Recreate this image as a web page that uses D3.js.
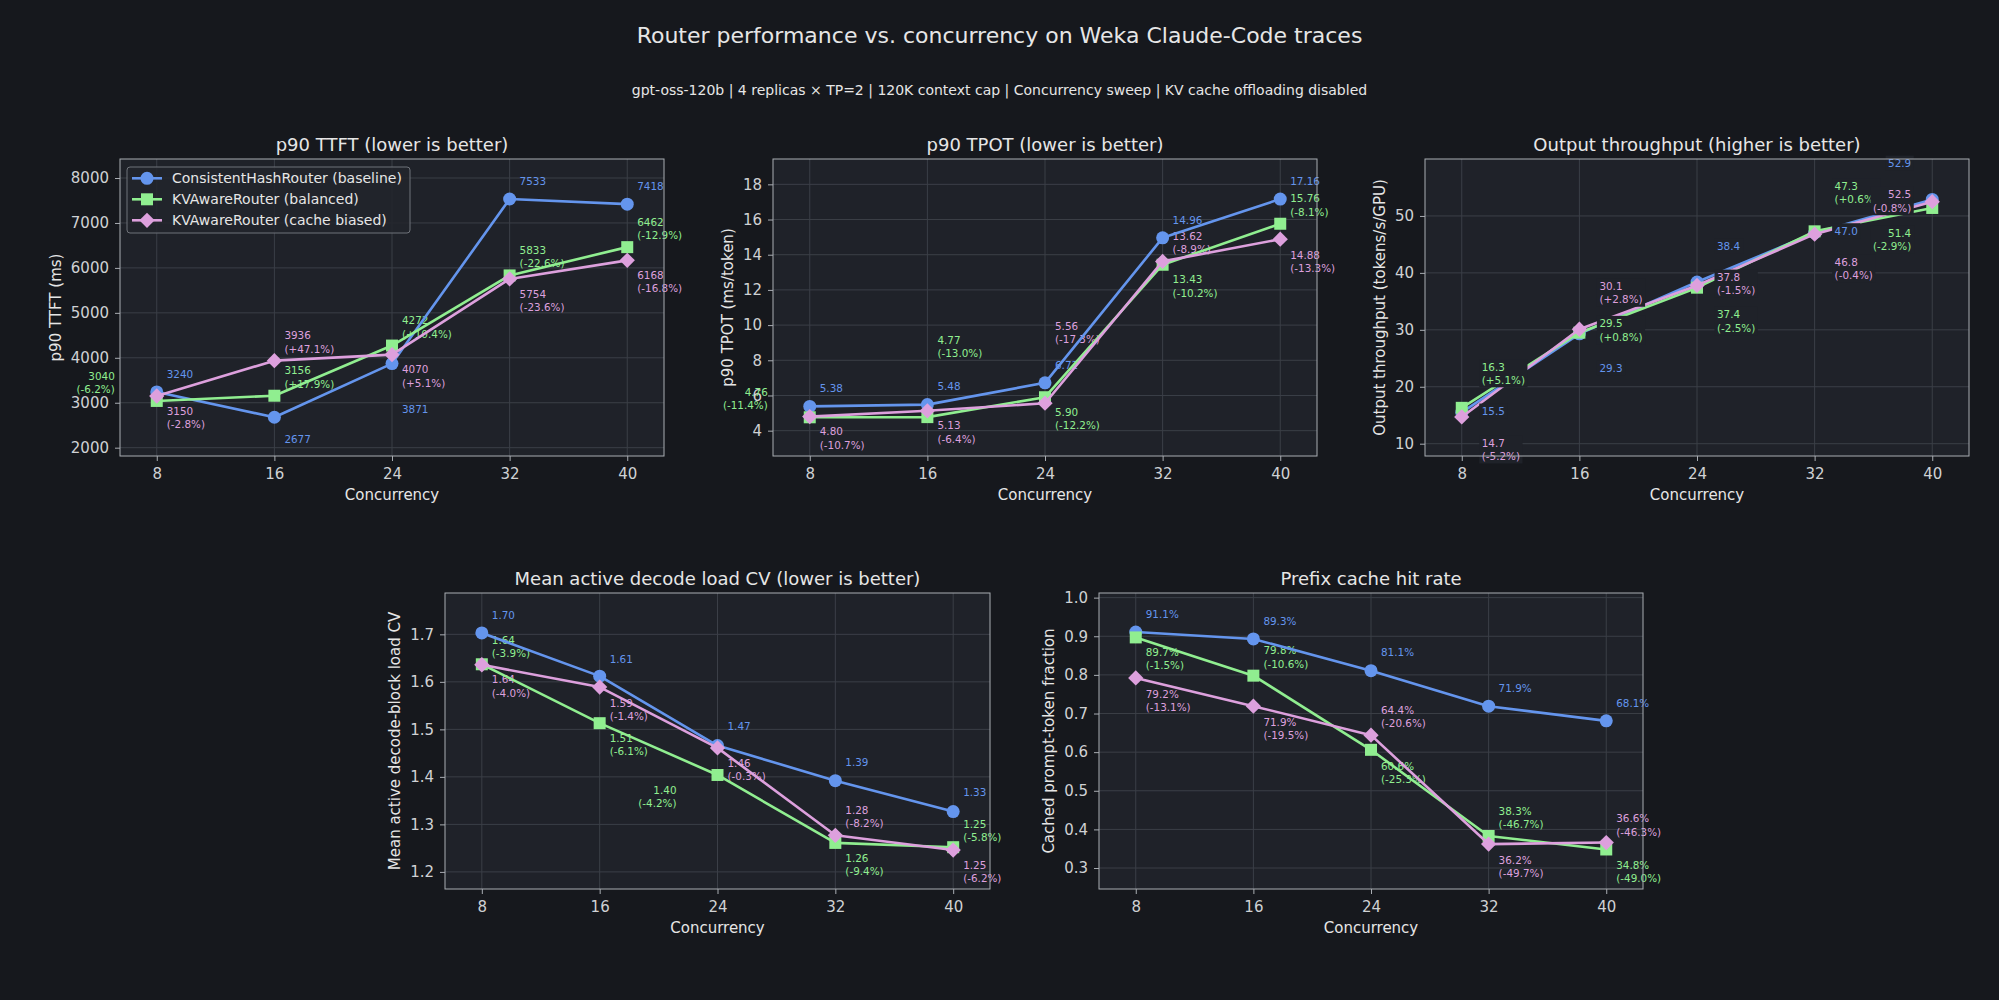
<!DOCTYPE html>
<html>
<head>
<meta charset="utf-8">
<script src="https://cdn.jsdelivr.net/npm/d3@7"></script>
<style>
  body { margin: 0; background: #16181d; }
  svg { display: block; font-family: "DejaVu Sans", sans-serif; }
</style>
</head>
<body>
<svg id="chart" width="1999" height="1000"></svg>
<script>
// ---- data ----
const concurrency = [8, 16, 24, 32, 40];
const routerNames = ["ConsistentHashRouter (baseline)", "KVAwareRouter (balanced)", "KVAwareRouter (cache biased)"];

// p90 TTFT (ms)
const ttftBaseline = [3240, 2677, 3871, 7533, 7418];
const ttftBalanced = [3040, 3156, 4272, 5833, 6462];
const ttftCache    = [3150, 3936, 4070, 5754, 6168];
const ttftBalancedPct = [-6.2, 17.9, 10.4, -22.6, -12.9];
const ttftCachePct    = [-2.8, 47.1, 5.1, -23.6, -16.8];
const ttftTicks = [2000, 3000, 4000, 5000, 6000, 7000, 8000];

// p90 TPOT (ms/token)
const tpotBaseline = [5.38, 5.48, 6.72, 14.96, 17.16];
const tpotBalanced = [4.76, 4.77, 5.90, 13.43, 15.76];
const tpotCache    = [4.80, 5.13, 5.56, 13.62, 14.88];
const tpotBalancedPct = [-11.4, -13.0, -12.2, -10.2, -8.1];
const tpotCachePct    = [-10.7, -6.4, -17.3, -8.9, -13.3];
const tpotTicks = [4, 6, 8, 10, 12, 14, 16, 18];

// output throughput (tokens/s/GPU)
const tputBaseline = [15.5, 29.3, 38.4, 47.0, 52.9];
const tputBalanced = [16.3, 29.5, 37.4, 47.3, 51.4];
const tputCache    = [14.7, 30.1, 37.8, 46.8, 52.5];
const tputBalancedPct = [5.1, 0.8, -2.5, 0.6, -2.9];
const tputCachePct    = [-5.2, 2.8, -1.5, -0.4, -0.8];
const tputTicks = [10, 20, 30, 40, 50];

// mean active decode-block load CV
const cvBaseline = [1.703, 1.612, 1.466, 1.392, 1.327];
const cvBalanced = [1.637, 1.513, 1.404, 1.261, 1.252];
const cvCache    = [1.636, 1.589, 1.461, 1.277, 1.246];
const cvBalancedPct = [-3.9, -6.1, -4.2, -9.4, -5.8];
const cvCachePct    = [-4.0, -1.4, -0.3, -8.2, -6.2];
const cvTicks = [1.2, 1.3, 1.4, 1.5, 1.6, 1.7];

// prefix cache hit rate (fraction of prompt tokens)
const hitBaseline = [0.911, 0.893, 0.811, 0.719, 0.681];
const hitBalanced = [0.897, 0.798, 0.606, 0.383, 0.348];
const hitCache    = [0.792, 0.719, 0.644, 0.362, 0.366];
const hitBalancedPct = [-1.5, -10.6, -25.3, -46.7, -49.0];
const hitCachePct    = [-13.1, -19.5, -20.6, -49.7, -46.3];
const hitTicks = [0.3, 0.4, 0.5, 0.6, 0.7, 0.8, 0.9, 1.0];

// ---- label placement (px offsets from each point; negative dx = right-aligned) ----
const ttftLabelPos = [
  [[10, -18], [10, 22], [10, 46], [10, -18], [10, -18]],
  [[-42, -25], [10, -25], [10, -25], [10, -25], [10, -25]],
  [[10, 15], [10, -25], [10, 15], [10, 15], [10, 15]]
];
const tpotLabelPos = [
  [[10, -18], [10, -18], [10, -18], [10, -18], [10, -18]],
  [[-42, -25], [10, -77], [10, 15], [10, 15], [10, -25]],
  [[10, 15], [10, 15], [10, -77], [10, -25], [10, 16]]
];
const tputLabelPos = [
  [[20, -1], [20, 34], [20, -36], [20, -2], [-21, -36]],
  [[20, -41], [20, -9], [20, 27], [20, -45], [-21, 25]],
  [[20, 26], [20, -43], [20, -8], [20, 28], [-21, -7]]
];
const cvLabelPos = [
  [[10, -18], [10, -17], [10, -19], [10, -18], [10, -19]],
  [[10, -24], [10, 15], [-41, 15], [10, 15], [10, -23]],
  [[10, 15], [10, 16], [10, 15], [10, -25], [10, 15]]
];
const hitLabelPos = [
  [[10, -18], [10, -18], [10, -18], [10, -18], [10, -18]],
  [[10, 15], [10, -25], [10, 16], [10, -25], [10, 16]],
  [[10, 16], [10, 16], [10, -25], [10, 16], [10, -24]]
];

// ---- style ----
const colors = ["#6495ed", "#90ee90", "#dda0dd"];
const figBg = "#16181d", axBg = "#1f2229";
const textCol = "#e6e6e6", tickCol = "#cfd1d4", gridCol = "#3b3f47", spineCol = "#a9adb3";

// plain hyphen minus, like the reference
const fmtInt = v => v.toFixed(0), fmt1 = v => v.toFixed(1), fmt2 = v => v.toFixed(2);
const fmtPct = p => "(" + (p >= 0 ? "+" : "") + p.toFixed(1) + "%)";

const panels = [
  { title: "p90 TTFT (lower is better)", ylabel: "p90 TTFT (ms)", box: [120, 159, 544, 297],
    yDomain: [1815, 8423], yTicks: ttftTicks, tickFmt: fmtInt, valFmt: fmtInt,
    series: [ttftBaseline, ttftBalanced, ttftCache], pct: [null, ttftBalancedPct, ttftCachePct],
    labelPos: ttftLabelPos, legend: true, boxed: false },
  { title: "p90 TPOT (lower is better)", ylabel: "p90 TPOT (ms/token)", box: [773, 159, 544, 297],
    yDomain: [2.56, 19.44], yTicks: tpotTicks, tickFmt: fmtInt, valFmt: fmt2,
    series: [tpotBaseline, tpotBalanced, tpotCache], pct: [null, tpotBalancedPct, tpotCachePct],
    labelPos: tpotLabelPos, legend: false, boxed: false },
  { title: "Output throughput (higher is better)", ylabel: "Output throughput (tokens/s/GPU)", box: [1425, 159, 544, 297],
    yDomain: [7.84, 60.0], yTicks: tputTicks, tickFmt: fmtInt, valFmt: fmt1,
    series: [tputBaseline, tputBalanced, tputCache], pct: [null, tputBalancedPct, tputCachePct],
    labelPos: tputLabelPos, legend: false, boxed: true },
  { title: "Mean active decode load CV (lower is better)", ylabel: "Mean active decode-block load CV", box: [445, 593, 545, 296],
    yDomain: [1.164, 1.787], yTicks: cvTicks, tickFmt: fmt1, valFmt: fmt2,
    series: [cvBaseline, cvBalanced, cvCache], pct: [null, cvBalancedPct, cvCachePct],
    labelPos: cvLabelPos, legend: false, boxed: false },
  { title: "Prefix cache hit rate", ylabel: "Cached prompt-token fraction", box: [1099, 593, 544, 296],
    yDomain: [0.2457, 1.012], yTicks: hitTicks, tickFmt: fmt1, valFmt: v => fmt1(v * 100) + "%",
    series: [hitBaseline, hitBalanced, hitCache], pct: [null, hitBalancedPct, hitCachePct],
    labelPos: hitLabelPos, legend: false, boxed: false }
];

const svg = d3.select("#chart");
svg.append("rect").attr("width", 1999).attr("height", 1000).attr("fill", figBg);

svg.append("text").attr("x", 999.5).attr("y", 43).attr("text-anchor", "middle")
  .attr("font-size", 22).attr("fill", textCol)
  .text("Router performance vs. concurrency on Weka Claude-Code traces");
svg.append("text").attr("x", 999.5).attr("y", 95).attr("text-anchor", "middle")
  .attr("font-size", 14).attr("fill", textCol)
  .text("gpt-oss-120b | 4 replicas × TP=2 | 120K context cap | Concurrency sweep | KV cache offloading disabled");

// marker path by series index: circle, square, diamond
const markerPath = [
  d3.symbol().type(d3.symbolCircle).size(Math.PI * 6.5 * 6.5)(),
  d3.symbol().type(d3.symbolSquare).size(12 * 12)(),
  d3.symbol().type(d3.symbolSquare).size(10.8 * 10.8)()
];
const markerRot = [0, 0, 45];

function drawMarker(g, x, y, i) {
  g.append("path").attr("d", markerPath[i])
    .attr("transform", `translate(${x},${y}) rotate(${markerRot[i]})`)
    .attr("fill", colors[i]);
}

panels.forEach((p, pi) => {
  const [left, top, w, h] = p.box;
  const g = svg.append("g").attr("transform", `translate(${left},${top})`);
  const x = d3.scaleLinear().domain([5.5, 42.5]).range([0, w]);
  const y = d3.scaleLinear().domain(p.yDomain).range([h, 0]);

  g.append("rect").attr("width", w).attr("height", h).attr("fill", axBg);

  // grid
  g.append("g").selectAll("line").data(concurrency).join("line")
    .attr("x1", d => x(d)).attr("x2", d => x(d)).attr("y1", 0).attr("y2", h)
    .attr("stroke", gridCol).attr("stroke-width", 1);
  g.append("g").selectAll("line").data(p.yTicks).join("line")
    .attr("y1", d => y(d)).attr("y2", d => y(d)).attr("x1", 0).attr("x2", w)
    .attr("stroke", gridCol).attr("stroke-width", 1);

  // axes
  const xAxis = g.append("g").attr("transform", `translate(0,${h})`)
    .call(d3.axisBottom(x).tickValues(concurrency).tickFormat(fmtInt).tickSize(5).tickPadding(7));
  const yAxis = g.append("g")
    .call(d3.axisLeft(y).tickValues(p.yTicks).tickFormat(p.tickFmt).tickSize(5).tickPadding(6));
  [xAxis, yAxis].forEach(a => {
    a.select(".domain").remove();
    a.selectAll("line").attr("stroke", spineCol);
    a.selectAll("text").attr("fill", tickCol).attr("font-size", 15)
      .attr("font-family", "DejaVu Sans, sans-serif");
  });

  // text labels with no box are drawn under the lines
  const labelsUnder = g.append("g");
  const linesG = g.append("g");
  const labelsOver = g.append("g");
  const labelG = p.boxed ? labelsOver : labelsUnder;

  const line = d3.line().x((d, i) => x(concurrency[i])).y(d => y(d));
  p.series.forEach((vals, si) => {
    linesG.append("path").datum(vals).attr("d", line)
      .attr("fill", "none").attr("stroke", colors[si]).attr("stroke-width", 2.6)
      .attr("stroke-linejoin", "round");
    vals.forEach((v, i) => drawMarker(linesG, x(concurrency[i]), y(v), si));
  });

  p.series.forEach((vals, si) => {
    vals.forEach((v, i) => {
      const [dx, dy] = p.labelPos[si][i];
      const px = x(concurrency[i]) + dx, py = y(v) + dy;
      const lines = [p.valFmt(v)];
      if (p.pct[si]) lines.push(fmtPct(p.pct[si][i]));
      const lg = labelG.append("g");
      const t = lg.append("text").attr("font-size", 10.4).attr("fill", colors[si])
        .attr("text-anchor", dx < 0 ? "end" : "start");
      lines.forEach((s, k) => t.append("tspan").attr("x", px).attr("y", py + k * 13.3 + 3.7).text(s));
      if (p.boxed) {
        const bb = t.node().getBBox();
        lg.insert("rect", "text").attr("x", bb.x - 2.5).attr("y", bb.y - 1.5)
          .attr("width", bb.width + 5).attr("height", bb.height + 3).attr("fill", axBg);
      }
    });
  });

  // spines
  g.append("rect").attr("width", w).attr("height", h).attr("fill", "none")
    .attr("stroke", spineCol).attr("stroke-width", 1);

  // titles
  g.append("text").attr("x", w / 2).attr("y", -8.5).attr("text-anchor", "middle")
    .attr("font-size", 18).attr("fill", textCol).text(p.title);
  g.append("text").attr("x", w / 2).attr("y", h + 44).attr("text-anchor", "middle")
    .attr("font-size", 15).attr("fill", textCol).text("Concurrency");
  const maxTick = d3.max(yAxis.selectAll("text").nodes(), n => n.getComputedTextLength());
  const lx = -(maxTick + 26) + 5;
  g.append("text").attr("transform", `translate(${lx},${h / 2}) rotate(-90)`)
    .attr("text-anchor", "middle").attr("font-size", 15).attr("fill", textCol).text(p.ylabel);

  if (p.legend) {
    const lgd = g.append("g").attr("transform", "translate(7,8)");
    lgd.append("rect").attr("width", 283).attr("height", 66).attr("rx", 3)
      .attr("fill", "#22252c").attr("fill-opacity", 0.85).attr("stroke", "#6f737a").attr("stroke-width", 1);
    routerNames.forEach((name, si) => {
      const ry = 11.3 + si * 21;
      lgd.append("line").attr("x1", 5).attr("x2", 35).attr("y1", ry).attr("y2", ry)
        .attr("stroke", colors[si]).attr("stroke-width", 2.6);
      drawMarker(lgd, 20, ry, si);
      lgd.append("text").attr("x", 45).attr("y", ry + 5).attr("font-size", 14)
        .attr("fill", textCol).text(name);
    });
  }
});
</script>
</body>
</html>
